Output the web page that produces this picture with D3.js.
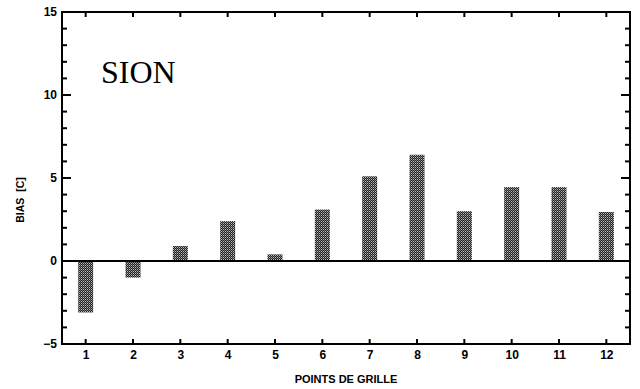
<!DOCTYPE html>
<html><head><meta charset="utf-8">
<script src="https://cdn.jsdelivr.net/npm/d3@7"></script>
<style>body{margin:0;background:#fff}svg{display:block}</style>
</head><body>
<svg id="c" width="640" height="389"></svg>
<script>
const categories = [1,2,3,4,5,6,7,8,9,10,11,12];
const biasValues = [-3.1,-1.0,0.9,2.4,0.4,3.1,5.1,6.4,3.0,4.45,4.45,2.95];
const yTickLabels = [-5,0,5,10,15];
const xTitle = "POINTS DE GRILLE";
const yTitle = "BIAS\u00a0\u00a0[C]";
const stationLabel = "SION";

const W=640,H=389, L=62,R=630,T=12,B=344;
const svg=d3.select("#c");
const x=d3.scaleLinear().domain([0.5,12.5]).range([L,R]);
const y=d3.scaleLinear().domain([-5,15]).range([B,T]);

const defs=svg.append("defs");
const pat=defs.append("pattern").attr("id","hatch").attr("patternUnits","userSpaceOnUse")
  .attr("width",2).attr("height",2);
pat.append("rect").attr("width",2).attr("height",2).attr("fill","#222");
pat.append("rect").attr("x",1).attr("y",1).attr("width",1).attr("height",1).attr("fill","#bbb");
pat.append("rect").attr("x",0).attr("y",0).attr("width",1).attr("height",1).attr("fill","#777");

const bw=15;
svg.selectAll("rect.bar").data(categories).enter().append("rect").attr("class","bar")
  .attr("x",d=>x(d)-bw/2).attr("width",bw)
  .attr("y",(d,i)=>y(Math.max(0,biasValues[i])))
  .attr("height",(d,i)=>Math.abs(y(biasValues[i])-y(0)))
  .attr("fill","url(#hatch)");

// zero line
svg.append("line").attr("x1",L).attr("x2",R).attr("y1",y(0)).attr("y2",y(0))
  .attr("stroke","#000").attr("stroke-width",2);

// frame
svg.append("rect").attr("x",L).attr("y",T).attr("width",R-L).attr("height",B-T)
  .attr("fill","none").attr("stroke","#000").attr("stroke-width",2);

// ticks (inward)
const minorY=d3.range(-5,16,1);
const g=svg.append("g").attr("stroke","#000").attr("stroke-width",2);
minorY.forEach(v=>{
  const len = v%5===0 ? 9 : 5;
  g.append("line").attr("x1",L).attr("x2",L+len).attr("y1",y(v)).attr("y2",y(v));
  g.append("line").attr("x1",R).attr("x2",R-len).attr("y1",y(v)).attr("y2",y(v));
});
categories.forEach(c=>{
  g.append("line").attr("x1",x(c)).attr("x2",x(c)).attr("y1",B).attr("y2",B-5);
  g.append("line").attr("x1",x(c)).attr("x2",x(c)).attr("y1",T).attr("y2",T+5);
});

const yAxis=d3.axisLeft(y).tickValues(yTickLabels).tickSize(0).tickPadding(5).tickFormat(d=>d<0?"\u2212"+Math.abs(d):d);
const ya=svg.append("g").attr("transform",`translate(${L},0)`).call(yAxis);
ya.select(".domain").remove();
ya.selectAll("text").attr("font-family","Liberation Sans, Arial, sans-serif").attr("font-weight","bold").attr("font-size",12).attr("fill","#000");

const xAxis=d3.axisBottom(x).tickValues(categories).tickSize(0).tickPadding(6).tickFormat(d3.format("d"));
const xa=svg.append("g").attr("transform",`translate(0,${B})`).call(xAxis);
xa.select(".domain").remove();
xa.selectAll("text").attr("font-family","Liberation Sans, Arial, sans-serif").attr("font-weight","bold").attr("font-size",12).attr("fill","#000");

svg.append("text").attr("x",(L+R)/2).attr("y",383).attr("text-anchor","middle")
  .attr("font-family","Liberation Sans, Arial, sans-serif").attr("font-weight","bold").attr("font-size",11)
  .text(xTitle);
svg.append("text").attr("transform",`translate(24,${y(5)+22}) rotate(-90)`).attr("text-anchor","middle")
  .attr("font-family","Liberation Sans, Arial, sans-serif").attr("font-weight","bold").attr("font-size",10.5)
  .text(yTitle);
svg.append("text").attr("x",101).attr("y",83).attr("font-family","Liberation Serif, Times New Roman, serif")
  .attr("font-size",32).text(stationLabel);
</script>
</body></html>
